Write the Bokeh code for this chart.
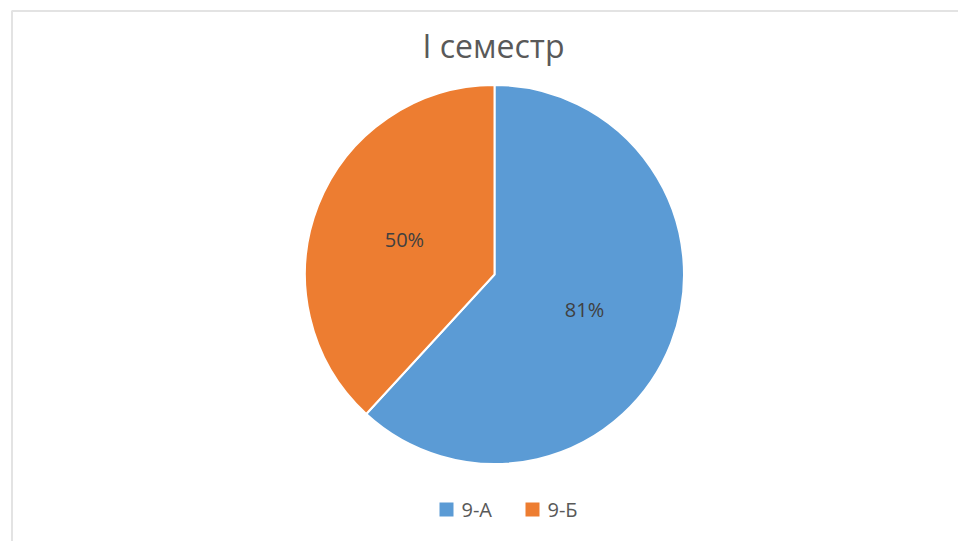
import math
from bokeh.plotting import figure
from bokeh.models import ColumnDataSource, Range1d
from bokeh.core.properties import value
from bokeh.embed import file_html
from bokeh.resources import INLINE

title_text = "I семестр"
categories = ["9-А", "9-Б"]
values = [81, 50]
labels = ["81%", "50%"]
colors = ["#5B9BD5", "#ED7D31"]

W, H = 958, 541
p = figure(width=W, height=H, output_backend="svg", toolbar_location=None,
           x_range=Range1d(0, W), y_range=Range1d(0, H), min_border=0,
           outline_line_color=None)
p.axis.visible = False
p.grid.visible = False
p.background_fill_color = "white"
p.border_fill_color = "white"

# chart frame (light gray border)
p.line(x=[11.5, 11.5, W + 5], y=[-5, 530.5, 530.5], line_color="#e3e3e3", line_width=2)

# pie
cx, cy, R = 494, 267, 189.5
total = sum(values)
starts, ends, lx, ly = [], [], [], []
a = math.pi / 2
for v in values:
    sweep = 2 * math.pi * v / total
    starts.append(a)
    ends.append(a - sweep)
    mid = a - sweep / 2
    lx.append(cx + 0.51 * R * math.cos(mid))
    ly.append(cy + 0.51 * R * math.sin(mid))
    a -= sweep

src = ColumnDataSource(dict(start=starts, end=ends, color=colors, cat=categories,
                            lx=lx, ly=ly, lab=labels))
p.wedge(x=cx, y=cy, radius=R, start_angle="start", end_angle="end", direction="clock",
        fill_color="color", line_color="white", line_width=2, source=src)
p.text(x="lx", y="ly", text="lab", source=src, text_align="center", text_baseline="middle",
       text_font=value("Open Sans"), text_font_size="20px", text_color="#404040")

# title
p.text(x=[493], y=[496], text=[title_text], text_align="center", text_baseline="alphabetic",
       text_font=value("Open Sans"), text_font_size="32px", text_color="#595959")

# legend (manual)
lgx = [446 + i * 86 for i in range(len(categories))]
lsrc = ColumnDataSource(dict(x=lgx, tx=[x + 15 for x in lgx], cat=categories, color=colors))
p.rect(x="x", y=32, width=14, height=14, fill_color="color", line_color=None, source=lsrc)
p.text(x="tx", y=32, text="cat", source=lsrc, text_align="left", text_baseline="middle",
       text_font=value("Open Sans"), text_font_size="20px", text_color="#595959")

open("out.html", "w").write(file_html(p, INLINE))
